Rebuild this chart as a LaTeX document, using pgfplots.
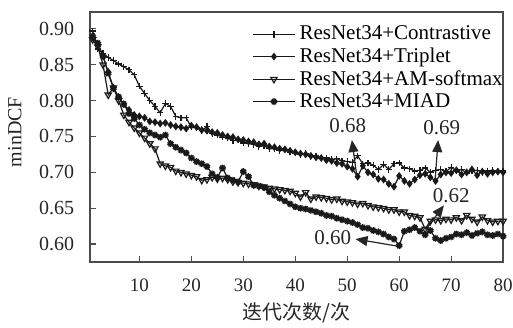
\documentclass[border=0pt]{standalone}
\usepackage{pgfplots}
\pgfplotsset{compat=1.18}
\usepackage{fontspec}
\setmainfont{Liberation Serif}
\newfontfamily\cjk{Noto Sans CJK SC}
\usetikzlibrary{arrows.meta}
\begin{document}
\begin{tikzpicture}
\begin{axis}[
  scale only axis,
  width=206.5pt, height=125pt,
  xmin=0.5, xmax=80, ymin=0.575, ymax=0.9235,
  axis line style={draw=black!70, line width=0.9pt},
  tick style={black!70, line width=0.6pt},
  major tick length=3pt,
  tick pos=left,
  tick align=inside,
  xtick={10,20,...,80},
  ytick={0.60,0.65,0.70,0.75,0.80,0.85,0.90},
  xticklabel={\pgfmathprintnumber[assume math mode=true]{\tick}},
  yticklabel={\pgfmathprintnumber[assume math mode=true,fixed,fixed zerofill,precision=2]{\tick}},
  xticklabel style={font=\fontsize{9.5}{10}\selectfont, text=black!85, anchor=center, inner sep=0pt, yshift=-11.5pt},
  yticklabel style={font=\fontsize{10}{11}\selectfont, text=black!85, anchor=east, inner sep=0pt, xshift=-7.7pt},
  xlabel={\cjk 迭代次数/次},
  ylabel={minDCF},
  label style={font=\fontsize{10}{12}\selectfont, text=black!85},
  xlabel style={at={(rel axis cs:0.5,-0.204)}, anchor=center, inner sep=0pt},
  ylabel style={at={(rel axis cs:-0.182,0.52)}, anchor=center, inner sep=0pt},
  legend style={at={(rel axis cs:0.392,0.962)}, anchor=north west, draw=none, fill=none,
    font=\fontsize{10.5}{11}\selectfont, row sep=-1.5pt, inner sep=0pt,
    /tikz/every even column/.append style={column sep=2pt}},
  legend cell align=left,
  legend image code/.code={\draw[mark repeat=2,mark phase=2,#1] plot coordinates {(0pt,0pt) (10.5pt,0pt) (21pt,0pt)};},
  every axis plot/.append style={black!90, line width=0.6pt},
  clip=false,
]
\addplot[mark=+, mark size=1.6pt] table {
x y
1 0.897
2 0.872
3 0.866
4 0.860
5 0.856
6 0.851
7 0.847
8 0.843
9 0.836
10 0.820
11 0.810
12 0.800
13 0.792
14 0.783
15 0.796
16 0.792
17 0.778
18 0.776
19 0.776
20 0.763
21 0.762
22 0.758
23 0.764
24 0.754
25 0.752
26 0.749
27 0.748
28 0.744
29 0.745
30 0.741
31 0.740
32 0.739
33 0.736
34 0.737
35 0.733
36 0.733
37 0.730
38 0.731
39 0.728
40 0.727
41 0.725
42 0.726
43 0.722
44 0.723
45 0.720
46 0.720
47 0.718
48 0.719
49 0.716
50 0.715
51 0.714
52 0.723
53 0.712
54 0.713
55 0.710
56 0.704
57 0.711
58 0.704
59 0.712
60 0.713
61 0.706
62 0.705
63 0.702
64 0.703
65 0.706
66 0.700
67 0.703
68 0.704
69 0.701
70 0.707
71 0.702
72 0.704
73 0.699
74 0.702
75 0.703
76 0.700
77 0.702
78 0.703
79 0.701
80 0.702
};
\addlegendentry{ResNet34+Contrastive}
\addplot[mark=diamond*, mark size=1.5pt] table {
x y
1 0.888
2 0.878
3 0.862
4 0.840
5 0.818
6 0.805
7 0.795
8 0.787
9 0.780
10 0.778
11 0.776
12 0.771
13 0.770
14 0.768
15 0.769
16 0.766
17 0.764
18 0.763
19 0.761
20 0.765
21 0.763
22 0.759
23 0.758
24 0.756
25 0.755
26 0.752
27 0.750
28 0.749
29 0.746
30 0.745
31 0.743
32 0.742
33 0.739
34 0.740
35 0.736
36 0.735
37 0.733
38 0.732
39 0.730
40 0.728
41 0.726
42 0.725
43 0.723
44 0.721
45 0.720
46 0.717
47 0.716
48 0.713
49 0.712
50 0.708
51 0.705
52 0.694
53 0.709
54 0.700
55 0.697
56 0.691
57 0.690
58 0.684
59 0.680
60 0.695
61 0.688
62 0.684
63 0.690
64 0.696
65 0.698
66 0.693
67 0.688
68 0.697
69 0.700
70 0.699
71 0.703
72 0.697
73 0.700
74 0.704
75 0.696
76 0.701
77 0.698
78 0.700
79 0.701
80 0.700
};
\addlegendentry{ResNet34+Triplet}
\addplot[mark=triangle, mark size=1.8pt, every mark/.append style={rotate=180}] table {
x y
1 0.885
2 0.875
3 0.850
4 0.808
5 0.818
6 0.800
7 0.780
8 0.770
9 0.762
10 0.755
11 0.748
12 0.740
13 0.733
14 0.712
15 0.709
16 0.707
17 0.702
18 0.700
19 0.698
20 0.696
21 0.694
22 0.689
23 0.690
24 0.693
25 0.691
26 0.692
27 0.690
28 0.687
29 0.686
30 0.685
31 0.684
32 0.683
33 0.681
34 0.680
35 0.678
36 0.677
37 0.676
38 0.675
39 0.674
40 0.671
41 0.666
42 0.672
43 0.663
44 0.666
45 0.665
46 0.664
47 0.662
48 0.663
49 0.660
50 0.659
51 0.658
52 0.656
53 0.657
54 0.654
55 0.652
56 0.651
57 0.650
58 0.648
59 0.648
60 0.645
61 0.645
62 0.640
63 0.639
64 0.637
65 0.621
66 0.632
67 0.634
68 0.633
69 0.635
70 0.634
71 0.637
72 0.633
73 0.640
74 0.635
75 0.631
76 0.638
77 0.633
78 0.631
79 0.632
80 0.632
};
\addlegendentry{ResNet34+AM-softmax}
\addplot[mark=10-pointed star, mark size=1.7pt, every mark/.append style={fill=black!90}] table {
x y
1 0.890
2 0.880
3 0.862
4 0.838
5 0.817
6 0.805
7 0.795
8 0.782
9 0.775
10 0.766
11 0.760
12 0.755
13 0.752
14 0.749
15 0.752
16 0.740
17 0.735
18 0.731
19 0.727
20 0.720
21 0.715
22 0.712
23 0.708
24 0.698
25 0.693
26 0.706
27 0.692
28 0.689
29 0.687
30 0.701
31 0.694
32 0.682
33 0.681
34 0.679
35 0.673
36 0.668
37 0.664
38 0.660
39 0.656
40 0.652
41 0.650
42 0.649
43 0.647
44 0.645
45 0.643
46 0.640
47 0.639
48 0.636
49 0.634
50 0.632
51 0.630
52 0.627
53 0.623
54 0.622
55 0.619
56 0.617
57 0.614
58 0.610
59 0.607
60 0.598
61 0.618
62 0.620
63 0.623
64 0.618
65 0.613
66 0.619
67 0.608
68 0.605
69 0.608
70 0.610
71 0.614
72 0.613
73 0.616
74 0.612
75 0.615
76 0.617
77 0.613
78 0.612
79 0.614
80 0.611
};
\addlegendentry{ResNet34+MIAD}
\begin{scope}[font=\fontsize{10.5}{12}\selectfont, black!85]
\node at (axis cs:50.1,0.765) {0.68};
\draw[line width=0.6pt, -{Triangle[length=6pt,width=5pt]}] (axis cs:51.9,0.692) -- (axis cs:50.9,0.745);
\node at (axis cs:68.2,0.762) {0.69};
\draw[line width=0.6pt, -{Triangle[length=6pt,width=5pt]}] (axis cs:66.9,0.688) -- (axis cs:67.5,0.745);
\node at (axis cs:70.0,0.667) {0.62};
\draw[line width=0.6pt, -{Triangle[length=6pt,width=5pt]}] (axis cs:65.2,0.621) -- (axis cs:68.6,0.654);
\node at (axis cs:47.2,0.609) {0.60};
\draw[line width=0.6pt, -{Triangle[length=6pt,width=5pt]}] (axis cs:59.8,0.597) -- (axis cs:51.6,0.607);
\end{scope}
\path (rel axis cs:-0.218,-0.26) rectangle (rel axis cs:1.024,1.048);
\end{axis}
\end{tikzpicture}
\end{document}
